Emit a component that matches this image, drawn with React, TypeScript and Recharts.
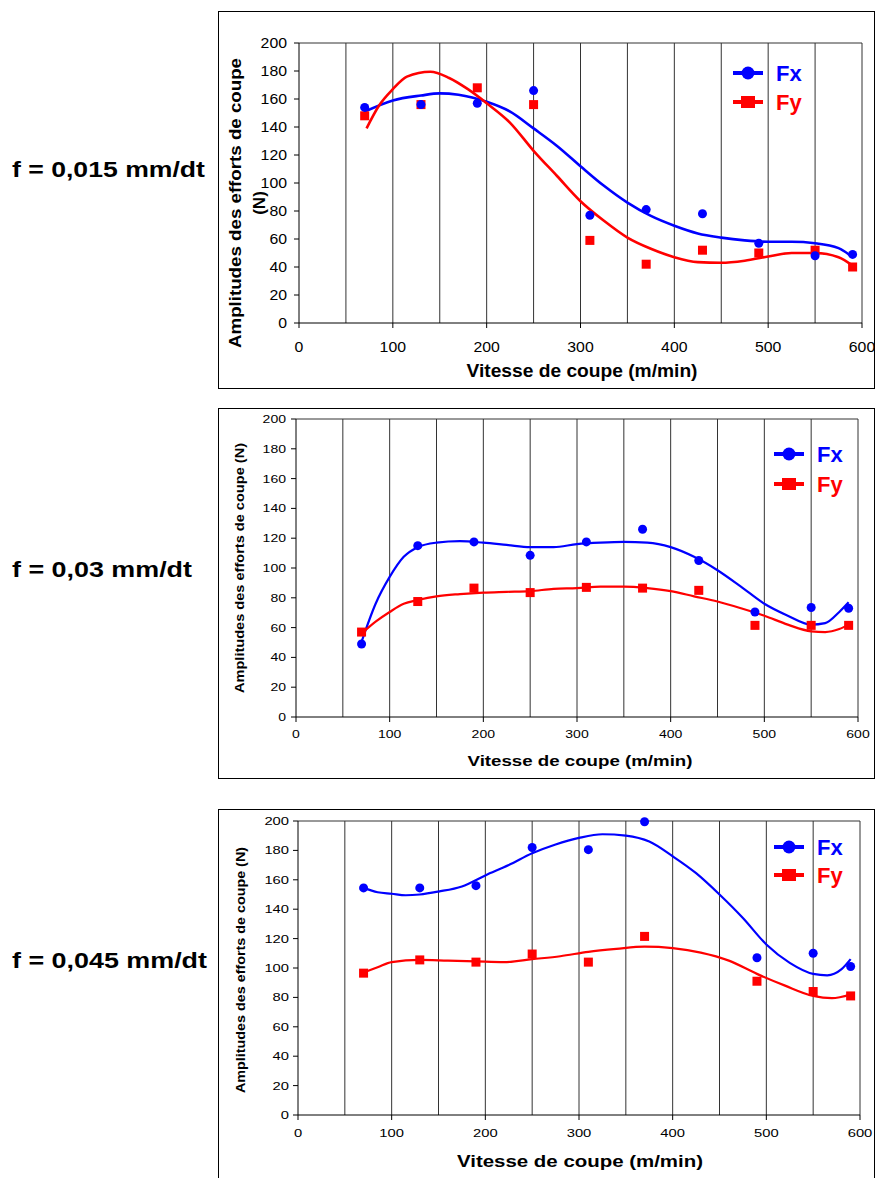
import React from 'react';
import { ComposedChart, Line, Scatter, XAxis, YAxis, ReferenceLine, Legend, Label } from 'recharts';

const FONT = '"Liberation Sans", Arial, Helvetica, sans-serif';
const FX_COLOR = '#0000FF';
const FY_COLOR = '#FF0000';

// ---------- shared axes ----------
const xTicks = [0, 100, 200, 300, 400, 500, 600];
const yTicks = [0, 20, 40, 60, 80, 100, 120, 140, 160, 180, 200];
const gridXs = [50, 100, 150, 200, 250, 300, 350, 400, 450, 500, 550];
const seriesNames = ['Fx', 'Fy'];
const xTitle = 'Vitesse de coupe (m/min)';
const yTitleMain = 'Amplitudes des efforts de coupe';
const yTitleUnit = '(N)';
const feedLabels = ['f = 0,015 mm/dt', 'f = 0,03 mm/dt', 'f = 0,045 mm/dt'];

// ---------- chart 1 : f = 0,015 mm/dt ----------
const speeds1 = [70, 130, 190, 250, 310, 370, 430, 490, 550, 590];
const fx1 = [154, 156, 157, 166, 77, 81, 78, 57, 48, 49];
const fy1 = [148, 156, 168, 156, 59, 42, 52, 50, 52, 40];
const trendFx1X = [70, 100, 130, 150, 170, 200, 225, 250, 275, 300, 325, 350, 375, 400, 425, 450, 475, 500, 525, 550, 575, 590];
const trendFx1Y = [151, 159, 162.5, 164, 163, 158, 151, 139, 126.5, 112, 98, 86, 76.5, 69.5, 64, 61, 59, 58, 58, 57, 53.5, 47];
const trendFy1X = [72, 85, 100, 115, 140, 160, 180, 200, 225, 250, 275, 300, 325, 350, 375, 400, 425, 450, 475, 500, 525, 550, 575, 590];
const trendFy1Y = [139, 155, 167, 176, 179.5, 175, 167, 157, 143, 123, 105, 87, 73, 61, 53, 47, 43.5, 43, 44.5, 47.5, 50, 50, 47, 41];

// ---------- chart 2 : f = 0,03 mm/dt ----------
const speeds2 = [70, 130, 190, 250, 310, 370, 430, 490, 550, 590];
const fx2 = [49, 115, 117.5, 108.5, 117.5, 126, 105, 70.5, 73.5, 73];
const fy2 = [57, 77.5, 86.5, 83.5, 87, 86.5, 85, 61.5, 61.5, 61.5];
const trendFx2X = [70, 85, 100, 115, 130, 150, 175, 200, 225, 250, 275, 300, 325, 350, 375, 400, 425, 450, 475, 500, 525, 550, 565, 580, 590];
const trendFx2Y = [50.5, 76, 94, 107.5, 114, 117, 118, 117, 115.5, 114, 114, 116, 117, 117.5, 117, 114, 107.5, 98.5, 87.5, 76, 68, 62, 63, 70.5, 77];
const trendFy2X = [70, 85, 100, 115, 130, 150, 175, 200, 225, 250, 275, 300, 325, 350, 375, 400, 425, 450, 475, 500, 525, 550, 565, 580, 590];
const trendFy2Y = [56, 64, 70.5, 76, 78.5, 81, 82.5, 83.5, 84, 84.5, 86, 86.5, 87.5, 87.5, 86.5, 84.5, 81, 77.5, 73, 68, 62, 57.5, 57, 59, 62];

// ---------- chart 3 : f = 0,045 mm/dt ----------
const speeds3 = [70, 130, 190, 250, 310, 370, 490, 550, 590];
const fx3 = [154.5, 154.5, 156, 182, 180.5, 199.5, 107, 110, 101];
const fy3 = [96.5, 105.5, 104, 109.5, 104, 121.5, 91, 84, 81];
const trendFx3X = [70, 85, 100, 115, 130, 150, 175, 200, 225, 250, 275, 300, 325, 350, 375, 400, 425, 450, 475, 500, 525, 550, 565, 580, 590];
const trendFx3Y = [154.5, 151.5, 150.5, 149.5, 150, 152, 155.5, 163, 170, 178, 184, 188.5, 191, 190, 186, 176, 164.5, 150, 134, 116, 103.5, 96, 95, 99, 106];
const trendFy3X = [70, 85, 100, 130, 160, 190, 220, 250, 280, 310, 340, 370, 400, 430, 460, 490, 520, 550, 570, 590];
const trendFy3Y = [97, 100.5, 104, 105.5, 105, 104.5, 104, 106, 108, 111, 113, 114.5, 113.5, 110.5, 105, 96, 88, 81, 79.5, 82];

type Pt = { x: number; y: number };
const zip = (xs: number[], ys: number[]): Pt[] => xs.map((x, i) => ({ x, y: ys[i] }));

type ChartCfg = {
  box: { left: number; top: number; width: number; height: number };
  plot: { left: number; top: number; right: number; bottom: number };
  tickFont: number;
  tickCharW: number;
  yTickMargin: number;
  xTickMargin: number;
  xTitle: { cx: number; cy: number; len: number; fs: number };
  yTitle: { cx: number; cy: number; len: number; fs: number; unitCx?: number };
  legend: { left: number; top: number; gap: number };
  lineWidth: number;
  points: { fx: Pt[]; fy: Pt[] };
  trends: { fx: Pt[]; fy: Pt[] };
};

const CircleShape = (p: any) => <circle cx={p.cx} cy={p.cy} r={4.5} fill={FX_COLOR} />;
const SquareShape = (p: any) => <rect x={p.cx - 4.5} y={p.cy - 4.5} width={9} height={9} fill={FY_COLOR} />;

const LegendBox = ({ gap }: { gap: number }) => (
  <svg width={90} height={gap + 30} style={{ display: 'block', overflow: 'visible' }}>
    <line x1={0} x2={30} y1={14} y2={14} stroke={FX_COLOR} strokeWidth={4} />
    <circle cx={15} cy={14} r={6.5} fill={FX_COLOR} />
    <text x={43} y={22} fill={FX_COLOR} fontSize={22} fontWeight="bold" fontFamily={FONT}>{seriesNames[0]}</text>
    <line x1={0} x2={30} y1={14 + gap} y2={14 + gap} stroke={FY_COLOR} strokeWidth={4} />
    <rect x={8} y={8 + gap} width={14} height={12} fill={FY_COLOR} />
    <text x={43} y={22 + gap} fill={FY_COLOR} fontSize={22} fontWeight="bold" fontFamily={FONT}>{seriesNames[1]}</text>
  </svg>
);

function ForceChart({ cfg, twoLineY }: { cfg: ChartCfg; twoLineY: boolean }) {
  const { box, plot } = cfg;
  const W = box.width;
  const H = box.height;
  const yAxisW = plot.left - box.left;
  const xAxisH = box.top + box.height - plot.bottom;
  const margin = { top: plot.top - box.top, right: box.left + box.width - plot.right, left: 0, bottom: 0 };

  const yTick = (p: any) => {
    const s = String(p.payload.value);
    return (
      <text x={p.x} y={p.y} textAnchor="end" dominantBaseline="central" fontSize={cfg.tickFont} fontFamily={FONT}
        fill="#000" textLength={s.length * cfg.tickCharW} lengthAdjust="spacingAndGlyphs">{s}</text>
    );
  };
  const xTick = (p: any) => {
    const s = String(p.payload.value);
    return (
      <text x={p.x} y={p.y} dy="0.71em" textAnchor="middle" fontSize={cfg.tickFont} fontFamily={FONT}
        fill="#000" textLength={s.length * cfg.tickCharW} lengthAdjust="spacingAndGlyphs">{s}</text>
    );
  };

  const xt = cfg.xTitle;
  const yt = cfg.yTitle;

  return (
    <div style={{ position: 'absolute', left: box.left, top: box.top, width: W, height: H }}>
      <ComposedChart width={W} height={H} margin={margin}>
        <XAxis type="number" dataKey="x" domain={[0, 600]} ticks={xTicks} interval={0} height={xAxisH}
          tickSize={5} tickMargin={cfg.xTickMargin} tick={xTick} stroke="#000" axisLine={{ stroke: '#000' }} tickLine={{ stroke: '#000' }}>
          <Label content={() => (
            <text x={xt.cx} y={xt.cy} textAnchor="middle" dominantBaseline="central" fontSize={xt.fs} fontWeight="bold"
              fontFamily={FONT} fill="#000" textLength={xt.len} lengthAdjust="spacingAndGlyphs">{xTitle}</text>
          )} />
        </XAxis>
        <YAxis type="number" dataKey="y" domain={[0, 200]} ticks={yTicks} interval={0} width={yAxisW}
          tickSize={5} tickMargin={cfg.yTickMargin} tick={yTick} stroke="#000" axisLine={{ stroke: '#000' }} tickLine={{ stroke: '#000' }}>
          <Label content={() => (
            twoLineY ? (
              <g>
                <text x={yt.cx} y={yt.cy} transform={`rotate(-90 ${yt.cx} ${yt.cy})`} textAnchor="middle" dominantBaseline="central"
                  fontSize={yt.fs} fontWeight="bold" fontFamily={FONT} fill="#000" textLength={yt.len} lengthAdjust="spacingAndGlyphs">{yTitleMain}</text>
                <text x={yt.unitCx} y={yt.cy} transform={`rotate(-90 ${yt.unitCx} ${yt.cy})`} textAnchor="middle" dominantBaseline="central"
                  fontSize={yt.fs} fontWeight="bold" fontFamily={FONT} fill="#000">{yTitleUnit}</text>
              </g>
            ) : (
              <text x={yt.cx} y={yt.cy} transform={`rotate(-90 ${yt.cx} ${yt.cy})`} textAnchor="middle" dominantBaseline="central"
                fontSize={yt.fs} fontWeight="bold" fontFamily={FONT} fill="#000" textLength={yt.len} lengthAdjust="spacingAndGlyphs">{`${yTitleMain} ${yTitleUnit}`}</text>
            )
          )} />
        </YAxis>
        {gridXs.map((gx) => (
          <ReferenceLine key={gx} x={gx} stroke="#333" strokeWidth={1} ifOverflow="visible" />
        ))}
        <ReferenceLine x={600} stroke="#333" strokeWidth={1} ifOverflow="visible" />
        <ReferenceLine y={200} stroke="#333" strokeWidth={1} ifOverflow="visible" />
        <Legend layout="vertical" align="center" verticalAlign="middle"
          wrapperStyle={{ left: cfg.legend.left, top: cfg.legend.top, width: 90, height: cfg.legend.gap + 30 }}
          content={() => <LegendBox gap={cfg.legend.gap} />} />
        <Line data={cfg.trends.fx} dataKey="y" type="monotone" stroke={FX_COLOR} strokeWidth={cfg.lineWidth} dot={false}
          activeDot={false} isAnimationActive={false} legendType="none" name="Fx trend" />
        <Line data={cfg.trends.fy} dataKey="y" type="monotone" stroke={FY_COLOR} strokeWidth={cfg.lineWidth} dot={false}
          activeDot={false} isAnimationActive={false} legendType="none" name="Fy trend" />
        <Scatter data={cfg.points.fy} dataKey="y" name="Fy" shape={SquareShape} isAnimationActive={false} />
        <Scatter data={cfg.points.fx} dataKey="y" name="Fx" shape={CircleShape} isAnimationActive={false} />
      </ComposedChart>
      <div style={{ position: 'absolute', left: 0, top: 0, width: W, height: H, border: '1px solid #000', boxSizing: 'border-box', pointerEvents: 'none' }} />
    </div>
  );
}

const cfg1: ChartCfg = {
  box: { left: 218, top: 11, width: 657, height: 378 },
  plot: { left: 299, top: 43, right: 862, bottom: 323 },
  tickFont: 14,
  tickCharW: 8.8,
  yTickMargin: 7,
  xTickMargin: 14,
  xTitle: { cx: 364, cy: 359, len: 231, fs: 18.5 },
  yTitle: { cx: 17, cy: 192, len: 290, fs: 17, unitCx: 41 },
  legend: { left: 515, top: 48, gap: 29 },
  lineWidth: 2.6,
  points: { fx: zip(speeds1, fx1), fy: zip(speeds1, fy1) },
  trends: { fx: zip(trendFx1X, trendFx1Y), fy: zip(trendFy1X, trendFy1Y) },
};

const cfg2: ChartCfg = {
  box: { left: 218, top: 408, width: 657, height: 371 },
  plot: { left: 296, top: 419, right: 858, bottom: 717 },
  tickFont: 11,
  tickCharW: 7.8,
  yTickMargin: 5,
  xTickMargin: 8,
  xTitle: { cx: 362, cy: 352, len: 225, fs: 15 },
  yTitle: { cx: 22, cy: 160, len: 250, fs: 12.5 },
  legend: { left: 556, top: 32, gap: 30 },
  lineWidth: 2.2,
  points: { fx: zip(speeds2, fx2), fy: zip(speeds2, fy2) },
  trends: { fx: zip(trendFx2X, trendFx2Y), fy: zip(trendFy2X, trendFy2Y) },
};

const cfg3: ChartCfg = {
  box: { left: 218, top: 809, width: 657, height: 376 },
  plot: { left: 298, top: 821, right: 860, bottom: 1115 },
  tickFont: 11,
  tickCharW: 8.2,
  yTickMargin: 4,
  xTickMargin: 9,
  xTitle: { cx: 362, cy: 352, len: 246, fs: 16 },
  yTitle: { cx: 23, cy: 161, len: 246, fs: 12.5 },
  legend: { left: 556, top: 24, gap: 28 },
  lineWidth: 2.2,
  points: { fx: zip(speeds3, fx3), fy: zip(speeds3, fy3) },
  trends: { fx: zip(trendFx3X, trendFx3Y), fy: zip(trendFy3X, trendFy3Y) },
};

const feedLabelPos = [
  { x: 12, y: 177, len: 193 },
  { x: 12, y: 577, len: 180 },
  { x: 12, y: 968, len: 195 },
];

export default function App() {
  return (
    <div style={{ position: 'absolute', left: 0, top: 0, width: 876, height: 1178, background: '#fff', overflow: 'hidden' }}>
      <svg width={216} height={1178} style={{ position: 'absolute', left: 0, top: 0 }}>
        {feedLabels.map((t, i) => (
          <text key={t} x={feedLabelPos[i].x} y={feedLabelPos[i].y} fontSize={22} fontWeight="bold" fontFamily={FONT} fill="#000"
            textLength={feedLabelPos[i].len} lengthAdjust="spacingAndGlyphs">{t}</text>
        ))}
      </svg>
      <ForceChart cfg={cfg1} twoLineY={true} />
      <ForceChart cfg={cfg2} twoLineY={false} />
      <ForceChart cfg={cfg3} twoLineY={false} />
    </div>
  );
}
